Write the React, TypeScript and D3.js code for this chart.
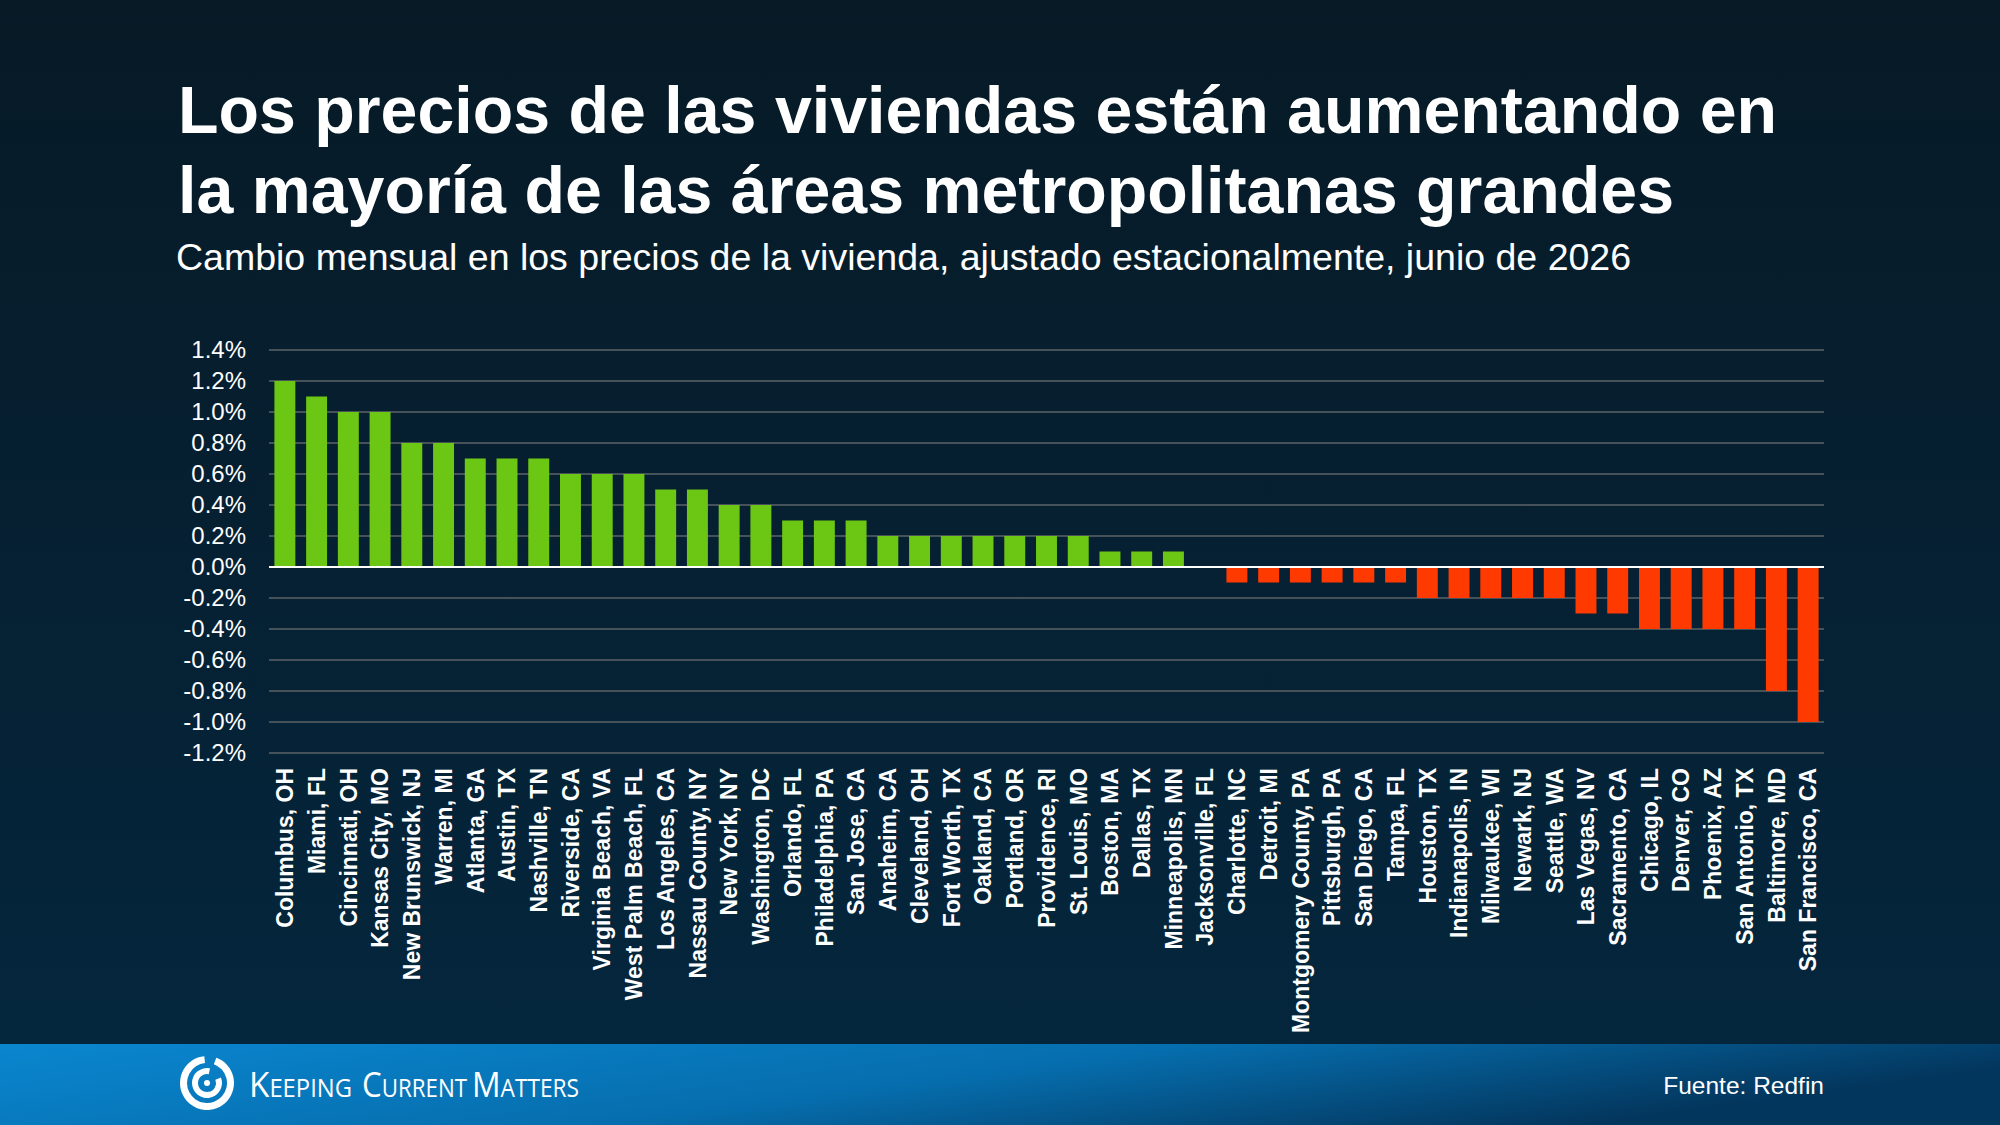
import React, {useEffect, useRef} from 'react'
import * as d3 from 'd3'

// metro areas, in the order shown
const cities = [
  'Columbus, OH', 'Miami, FL', 'Cincinnati, OH', 'Kansas City, MO', 'New Brunswick, NJ',
  'Warren, MI', 'Atlanta, GA', 'Austin, TX', 'Nashville, TN', 'Riverside, CA',
  'Virginia Beach, VA', 'West Palm Beach, FL', 'Los Angeles, CA', 'Nassau County, NY', 'New York, NY',
  'Washington, DC', 'Orlando, FL', 'Philadelphia, PA', 'San Jose, CA', 'Anaheim, CA',
  'Cleveland, OH', 'Fort Worth, TX', 'Oakland, CA', 'Portland, OR', 'Providence, RI',
  'St. Louis, MO', 'Boston, MA', 'Dallas, TX', 'Minneapolis, MN', 'Jacksonville, FL',
  'Charlotte, NC', 'Detroit, MI', 'Montgomery County, PA', 'Pittsburgh, PA', 'San Diego, CA',
  'Tampa, FL', 'Houston, TX', 'Indianapolis, IN', 'Milwaukee, WI', 'Newark, NJ',
  'Seattle, WA', 'Las Vegas, NV', 'Sacramento, CA', 'Chicago, IL', 'Denver, CO',
  'Phoenix, AZ', 'San Antonio, TX', 'Baltimore, MD', 'San Francisco, CA'
]

// month-over-month change, %
const changes = [
  1.2, 1.1, 1.0, 1.0, 0.8,
  0.8, 0.7, 0.7, 0.7, 0.6,
  0.6, 0.6, 0.5, 0.5, 0.4,
  0.4, 0.3, 0.3, 0.3, 0.2,
  0.2, 0.2, 0.2, 0.2, 0.2,
  0.2, 0.1, 0.1, 0.1, 0.0,
  -0.1, -0.1, -0.1, -0.1, -0.1,
  -0.1, -0.2, -0.2, -0.2, -0.2,
  -0.2, -0.3, -0.3, -0.4, -0.4,
  -0.4, -0.4, -0.8, -1.0
]

const yTicks = [1.4, 1.2, 1.0, 0.8, 0.6, 0.4, 0.2, 0.0, -0.2, -0.4, -0.6, -0.8, -1.0, -1.2]

const titleLines = [
  'Los precios de las viviendas están aumentando en',
  'la mayoría de las áreas metropolitanas grandes'
]
const subtitle = 'Cambio mensual en los precios de la vivienda, ajustado estacionalmente, junio de 2026'
const source = 'Fuente: Redfin'
const brandWords = ['Keeping', 'Current', 'Matters']

const W = 2000
const H = 1125
const font = "'Liberation Sans', Arial, sans-serif"

export default function App() {
  const ref = useRef<SVGSVGElement>(null)

  useEffect(() => {
    const svg = d3.select(ref.current)
    svg.selectAll('*').remove()

    const defs = svg.append('defs')
    const bg = defs.append('linearGradient').attr('id', 'bg').attr('x1', 0).attr('y1', 0).attr('x2', 0).attr('y2', 1)
    bg.append('stop').attr('offset', 0).attr('stop-color', '#071a26')
    bg.append('stop').attr('offset', 1).attr('stop-color', '#04273f')
    const foot = defs.append('linearGradient').attr('id', 'foot').attr('x1', 0).attr('y1', 0).attr('x2', 1).attr('y2', 0.3)
    foot.append('stop').attr('offset', 0).attr('stop-color', '#0a86cf')
    foot.append('stop').attr('offset', 0.55).attr('stop-color', '#066eae')
    foot.append('stop').attr('offset', 1).attr('stop-color', '#03365d')

    svg.append('rect').attr('width', W).attr('height', H).attr('fill', 'url(#bg)')

    // titles
    titleLines.forEach((t, i) => {
      svg.append('text')
        .attr('x', 178).attr('y', 133 + i * 80)
        .attr('fill', '#fff').attr('font-family', font).attr('font-weight', 700)
        .attr('font-size', 66.3)
        .text(t)
    })
    svg.append('text')
      .attr('x', 176).attr('y', 270)
      .attr('fill', '#fff').attr('font-family', font)
      .attr('font-size', 37.5)
      .text(subtitle)

    // scales
    const x = d3.scaleBand()
      .domain(cities)
      .range([269, 1824])
      .paddingInner(0.34)
      .paddingOuter(0.17)
    const y = d3.scaleLinear().domain([-1.2, 1.4]).range([753, 350])

    // grid
    svg.append('g').selectAll('line')
      .data(yTicks.filter(d => d !== 0))
      .enter().append('line')
      .attr('x1', 269).attr('x2', 1824)
      .attr('y1', d => y(d)).attr('y2', d => y(d))
      .attr('stroke', '#5c6367').attr('stroke-width', 1.6)

    svg.append('g').selectAll('text')
      .data(yTicks)
      .enter().append('text')
      .attr('x', 246).attr('y', d => y(d))
      .attr('dy', '0.35em')
      .attr('text-anchor', 'end')
      .attr('fill', '#fff').attr('font-family', font).attr('font-size', 24)
      .text(d => d.toFixed(1) + '%')

    // bars
    svg.append('g').selectAll('rect')
      .data(cities)
      .enter().append('rect')
      .attr('x', d => x(d)!)
      .attr('width', x.bandwidth())
      .attr('y', (d, i) => y(Math.max(0, changes[i])))
      .attr('height', (d, i) => Math.abs(y(changes[i]) - y(0)))
      .attr('fill', (d, i) => changes[i] >= 0 ? '#6cc614' : '#ff3a00')

    // zero line
    svg.append('line')
      .attr('x1', 269).attr('x2', 1824)
      .attr('y1', y(0)).attr('y2', y(0))
      .attr('stroke', '#fff').attr('stroke-width', 2.2)

    // category labels
    svg.append('g').selectAll('text')
      .data(cities)
      .enter().append('text')
      .attr('transform', d => `translate(${x(d)! + x.bandwidth() / 2},768) rotate(-90)`)
      .attr('dy', '0.36em')
      .attr('text-anchor', 'end')
      .attr('fill', '#fff').attr('font-family', font).attr('font-weight', 700)
      .attr('font-size', 23)
      .text(d => d)

    // footer
    svg.append('rect').attr('x', 0).attr('y', 1044).attr('width', W).attr('height', H - 1044).attr('fill', 'url(#foot)')

    const logo = svg.append('g').attr('transform', 'translate(207,1083)')
    const arc = d3.arc()
    logo.append('path')
      .attr('d', arc({innerRadius: 20, outerRadius: 27, startAngle: 0.35, endAngle: Math.PI * 2 - 0.1} as any)!)
      .attr('fill', '#fff')
    logo.append('path')
      .attr('d', arc({innerRadius: 9, outerRadius: 15, startAngle: 1.2, endAngle: Math.PI * 2 + 0.2} as any)!)
      .attr('fill', '#fff')
    logo.append('circle').attr('r', 3).attr('fill', '#fff')

    // brand name, one text per word (small caps)
    const wordX = [249, 362, 472]
    const wordW = [103, 105, 107]
    brandWords.forEach((w, i) => {
      svg.append('text')
        .attr('x', wordX[i]).attr('y', 1097)
        .attr('fill', '#fff').attr('font-family', "'Open Sans', sans-serif")
        .attr('font-size', 35)
        .style('font-variant', 'small-caps')
        .attr('textLength', wordW[i]).attr('lengthAdjust', 'spacingAndGlyphs')
        .text(w)
    })

    svg.append('text')
      .attr('x', 1824).attr('y', 1094)
      .attr('text-anchor', 'end')
      .attr('fill', '#fff').attr('font-family', font).attr('font-size', 24.5)
      .text(source)
  }, [])

  return (
    <svg ref={ref} width={W} height={H} style={{position: 'absolute', left: 0, top: 0, display: 'block'}} />
  )
}
